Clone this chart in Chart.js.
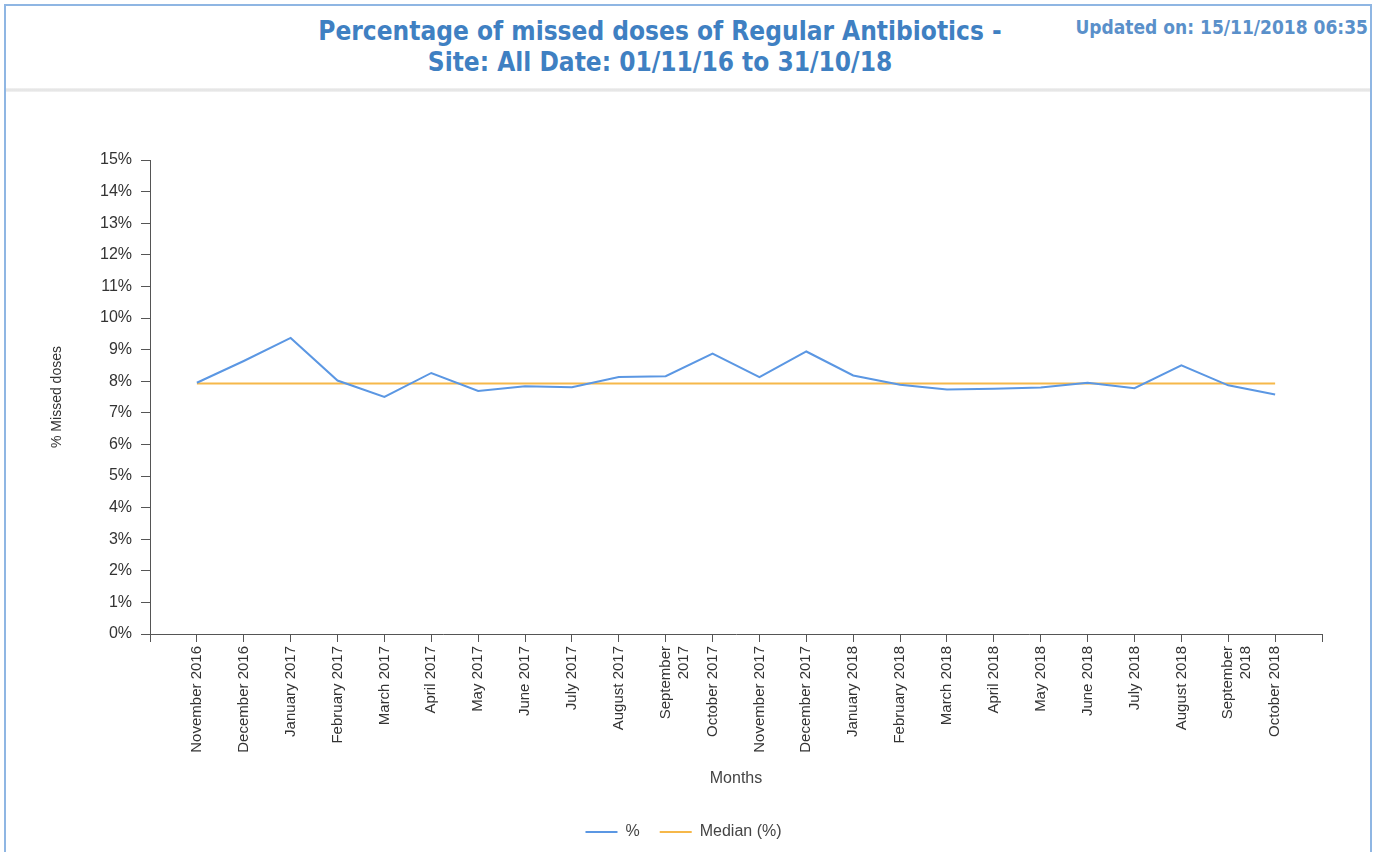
<!DOCTYPE html>
<html>
<head>
<meta charset="utf-8">
<title>Missed doses of Regular Antibiotics</title>
<script src="https://cdn.jsdelivr.net/npm/chart.js@4.4.1/dist/chart.umd.min.js"></script>
<style>
    html, body {
        margin: 0;
        padding: 0;
        width: 1376px;
        height: 852px;
        overflow: hidden;
        background: #ffffff;
    }
    #frame {
        position: absolute;
        left: 4px;
        top: 4px;
        width: 1364px;
        height: 900px;
        border: 2px solid #8fb6e3;
    }
    #title {
        position: absolute;
        left: 260px;
        top: 16px;
        width: 800px;
        text-align: center;
        font-family: "Liberation Sans Narrow", "DejaVu Sans Condensed", "Liberation Sans", sans-serif;
        font-weight: bold;
        font-size: 26px;
        line-height: 31px;
        color: #3f80c2;
    }
    #updated {
        position: absolute;
        right: 8px;
        top: 16px;
        font-family: "Liberation Sans Narrow", "DejaVu Sans Condensed", "Liberation Sans", sans-serif;
        font-weight: bold;
        font-size: 19px;
        color: #5a90ca;
    }
    #sep {
        position: absolute;
        left: 6px;
        top: 88px;
        width: 1364px;
        height: 4px;
        background: linear-gradient(#f3f3f3, #e2e2e2, #f3f3f3);
    }
    #chartBox {
        position: absolute;
        left: 0;
        top: 95px;
        width: 1376px;
        height: 757px;
    }
</style>
</head>
<body>
<div id="frame"></div>
<div id="title">Percentage of missed doses of Regular Antibiotics -<br>Site: All Date: 01/11/16 to 31/10/18</div>
<div id="updated">Updated on: 15/11/2018 06:35</div>
<div id="sep"></div>
<div id="chartBox"><canvas id="missedChart" width="1376" height="757"></canvas></div>

<script>
// --- DATA ---
const months = [
    'November 2016', 'December 2016', 'January 2017', 'February 2017', 'March 2017', 'April 2017',
    'May 2017', 'June 2017', 'July 2017', 'August 2017', ['September', '2017'], 'October 2017',
    'November 2017', 'December 2017', 'January 2018', 'February 2018', 'March 2018', 'April 2018',
    'May 2018', 'June 2018', 'July 2018', 'August 2018', ['September', '2018'], 'October 2018'
];
const missedPct = [
    7.95, 8.64, 9.37, 8.02, 7.50, 8.26, 7.69, 7.84, 7.81, 8.13, 8.16, 8.87,
    8.13, 8.94, 8.18, 7.89, 7.74, 7.76, 7.80, 7.95, 7.78, 8.50, 7.87, 7.58
];
const medianPct = [
    7.93, 7.93, 7.93, 7.93, 7.93, 7.93, 7.93, 7.93, 7.93, 7.93, 7.93, 7.93,
    7.93, 7.93, 7.93, 7.93, 7.93, 7.93, 7.93, 7.93, 7.93, 7.93, 7.93, 7.93
];
const yMin = 0;
const yMax = 15;
const yStep = 1;

// the axis runs one empty slot past the first and last month
const axisLabels = ['', ...months, ''];
const pad = arr => [null, ...arr, null];

const axisColor = '#555555';
const textColor = '#333333';
const fontFamily = '"Liberation Sans", Arial, sans-serif';

document.addEventListener('DOMContentLoaded', () => {
    drawChart();
});

function drawChart() {
    const ctx = document.getElementById('missedChart').getContext('2d');

    new Chart(ctx, {
        type: 'line',
        data: {
            labels: axisLabels,
            datasets: [
                {
                    label: '%',
                    data: pad(missedPct),
                    borderColor: '#5b97e3',
                    backgroundColor: '#5b97e3',
                    borderWidth: 2,
                    pointRadius: 0,
                    tension: 0
                },
                {
                    label: 'Median (%)',
                    data: pad(medianPct),
                    borderColor: '#f6b84a',
                    backgroundColor: '#f6b84a',
                    borderWidth: 2,
                    pointRadius: 0,
                    tension: 0
                }
            ]
        },
        options: {
            responsive: false,
            animation: false,
            devicePixelRatio: 1,
            layout: { padding: { left: 45, right: 54, top: 65, bottom: 2 } },
            plugins: {
                legend: {
                    position: 'bottom',
                    labels: {
                        usePointStyle: true,
                        pointStyle: 'line',
                        pointStyleWidth: 32,
                        padding: 20,
                        color: '#444444',
                        font: { family: fontFamily, size: 16 }
                    }
                },
                tooltip: { enabled: false }
            },
            scales: {
                x: {
                    afterFit: (scale) => { scale.height = 170; },
                    border: { color: axisColor, width: 1 },
                    grid: { drawOnChartArea: false, drawTicks: true, tickLength: 8, color: axisColor },
                    ticks: {
                        autoSkip: false,
                        maxRotation: 90,
                        minRotation: 90,
                        padding: 4,
                        color: textColor,
                        font: { family: fontFamily, size: 15 }
                    },
                    title: {
                        display: true,
                        text: 'Months',
                        color: '#444444',
                        padding: { top: 4, bottom: 16 },
                        font: { family: fontFamily, size: 16 }
                    }
                },
                y: {
                    min: yMin,
                    max: yMax,
                    afterFit: (scale) => { scale.width = 105; },
                    border: { color: axisColor, width: 1 },
                    grid: { drawOnChartArea: false, drawTicks: true, tickLength: 9, color: axisColor },
                    ticks: {
                        stepSize: yStep,
                        padding: 9,
                        color: textColor,
                        font: { family: fontFamily, size: 16 },
                        callback: (v) => v + '%'
                    },
                    title: {
                        display: true,
                        text: '% Missed doses',
                        color: textColor,
                        padding: { top: 4, bottom: 4 },
                        font: { family: fontFamily, size: 14 }
                    }
                }
            }
        }
    });
}
</script>
</body>
</html>
